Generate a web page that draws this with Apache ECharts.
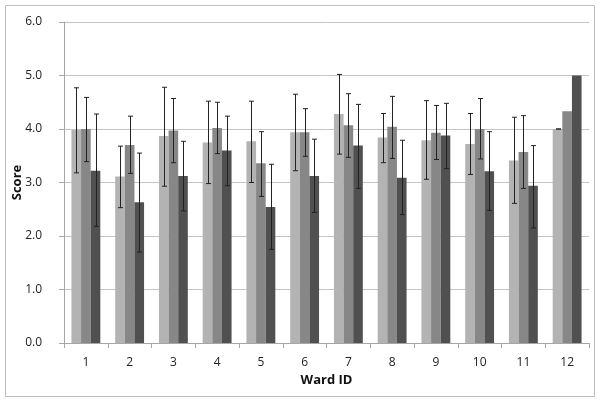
<!DOCTYPE html>
<html>
<head>
<meta charset="utf-8">
<script src="https://cdn.jsdelivr.net/npm/echarts@6/dist/echarts.min.js"></script>
<style>
html,body{margin:0;padding:0;background:#fff;}
#chart{width:600px;height:402px;}
</style>
</head>
<body>
<div id="chart"></div>
<script>
const categories = ['1','2','3','4','5','6','7','8','9','10','11','12'];
const yTicks = ['0.0','1.0','2.0','3.0','4.0','5.0','6.0'];
const means1 = [3.98,3.11,3.87,3.75,3.77,3.94,4.28,3.84,3.79,3.72,3.41,4.00];
const means2 = [4.00,3.70,3.97,4.02,3.36,3.94,4.07,4.04,3.93,4.00,3.57,4.33];
const means3 = [3.22,2.63,3.12,3.60,2.54,3.12,3.69,3.09,3.88,3.21,2.94,5.00];
const hi1 = [4.77,3.68,4.78,4.52,4.52,4.65,5.02,4.29,4.53,4.29,4.22,4.00];
const lo1 = [3.18,2.53,2.93,2.98,3.00,3.22,3.53,3.37,3.06,3.15,2.61,4.00];
const hi2 = [4.59,4.24,4.57,4.50,3.95,4.38,4.66,4.61,4.44,4.57,4.25,null];
const lo2 = [3.39,3.17,3.37,3.54,2.74,3.49,3.47,3.45,3.43,3.44,2.89,null];
const hi3 = [4.28,3.55,3.77,4.24,3.34,3.81,4.46,3.79,4.48,3.95,3.69,null];
const lo3 = [2.18,1.70,2.47,2.94,1.75,2.44,2.89,2.40,3.26,2.48,2.15,null];

const barColors = ['#b3b3b3','#878787','#505050'];
const catGap = 0.34;
const fontFam = '"Open Sans", "Liberation Sans", sans-serif';

function errData(hi, lo) {
  const out = [];
  hi.forEach((h, i) => { if (h != null && lo[i] != null) out.push([i, lo[i], h]); });
  return out;
}

function errSeries(k, hi, lo) {
  return {
    type: 'custom',
    z: 10,
    data: errData(hi, lo),
    encode: { x: 0, y: [1, 2] },
    renderItem: function (params, api) {
      const cat = api.value(0);
      const pLo = api.coord([cat, api.value(1)]);
      const pHi = api.coord([cat, api.value(2)]);
      const cw = api.size([1, 0])[0];
      const bw = cw * (1 - catGap) / 3;
      const x = Math.round(pLo[0] + (k - 1) * bw) + 0.5;
      const hw = 2.5;
      const style = { stroke: '#222', lineWidth: 1 };
      return {
        type: 'group',
        children: [
          { type: 'line', shape: { x1: x, y1: pLo[1], x2: x, y2: pHi[1] }, style: style },
          { type: 'line', shape: { x1: x - hw, y1: pHi[1], x2: x + hw, y2: pHi[1] }, style: style },
          { type: 'line', shape: { x1: x - hw, y1: pLo[1], x2: x + hw, y2: pLo[1] }, style: style }
        ]
      };
    }
  };
}

const chart = echarts.init(document.getElementById('chart'));
chart.setOption({
  animation: false,
  backgroundColor: '#fff',
  graphic: [{
    type: 'rect',
    shape: { x: 5.5, y: 5.5, width: 589, height: 391 },
    style: { fill: 'none', stroke: '#bdbdbd', lineWidth: 1 },
    silent: true
  }],
  grid: { left: 64, right: 11, top: 22, bottom: 59, containLabel: false, outerBoundsMode: 'none' },
  xAxis: {
    type: 'category',
    data: categories,
    name: 'Ward ID',
    nameLocation: 'middle',
    nameGap: 31,
    nameMoveOverlap: false,
    nameTextStyle: { fontFamily: fontFam, fontSize: 13, fontWeight: 'bold', color: '#111' },
    axisLine: { lineStyle: { color: '#a6a6a6' } },
    axisTick: { show: true, alignWithLabel: false, interval: 0, length: 5, lineStyle: { color: '#a6a6a6' } },
    axisLabel: { fontFamily: fontFam, fontSize: 12, color: '#222', margin: 14 }
  },
  yAxis: {
    type: 'value',
    min: 0, max: 6, interval: 1,
    name: 'Score',
    nameLocation: 'middle',
    nameRotate: 90,
    nameGap: 40,
    nameMoveOverlap: false,
    nameTextStyle: { fontFamily: fontFam, fontSize: 13, fontWeight: 'bold', color: '#111' },
    axisLine: { show: true, lineStyle: { color: '#a6a6a6' } },
    axisTick: { show: true, length: 5, lineStyle: { color: '#a6a6a6' } },
    axisLabel: { fontFamily: fontFam, fontSize: 12, color: '#222', margin: 22,
      formatter: function (v) { return yTicks[Math.round(v)]; } },
    splitLine: { lineStyle: { color: '#c4c4c4' } }
  },
  series: [
    { type: 'bar', data: means1, itemStyle: { color: barColors[0] }, barGap: '0%', barCategoryGap: (catGap * 100) + '%' },
    { type: 'bar', data: means2, itemStyle: { color: barColors[1] }, barGap: '0%', barCategoryGap: (catGap * 100) + '%' },
    { type: 'bar', data: means3, itemStyle: { color: barColors[2] }, barGap: '0%', barCategoryGap: (catGap * 100) + '%' },
    errSeries(0, hi1, lo1),
    errSeries(1, hi2, lo2),
    errSeries(2, hi3, lo3)
  ]
});
</script>
</body>
</html>
